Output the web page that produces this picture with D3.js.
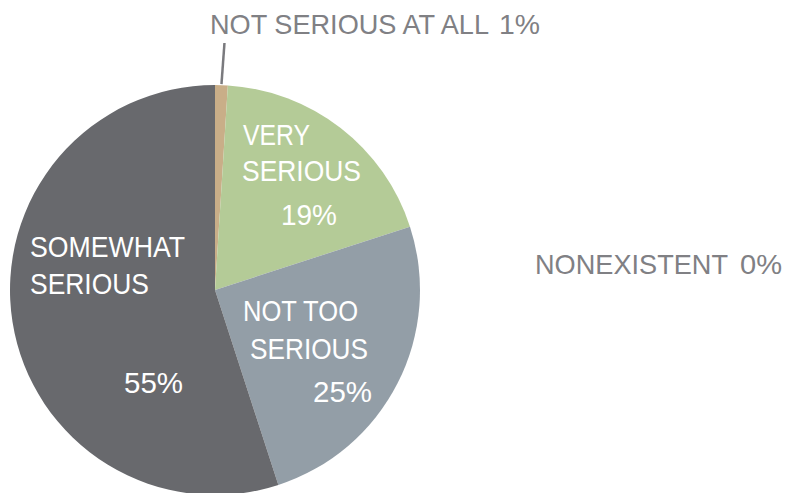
<!DOCTYPE html>
<html>
<head>
<meta charset="utf-8">
<script src="https://cdn.jsdelivr.net/npm/d3@7"></script>
<style>
html,body{margin:0;padding:0;background:#fff;overflow:hidden;}
text{font-family:"Liberation Sans",Arial,sans-serif;}
</style>
</head>
<body>
<svg id="chart" width="791" height="493"></svg>
<script>
const categories = ["NOT SERIOUS AT ALL", "VERY SERIOUS", "NOT TOO SERIOUS", "SOMEWHAT SERIOUS", "NONEXISTENT"];
const values = [1, 19, 25, 55, 0];
const colors = ["#c9ae88", "#b4cb97", "#939ea7", "#68696d", "#d0d0d0"];

const svg = d3.select("#chart");
const cx = 215, cy = 290, R = 205;
const g = svg.append("g").attr("transform", `translate(${cx},${cy})`);

const pie = d3.pie().sort(null).value(d => d.v).startAngle(0).endAngle(2*Math.PI);
const data = categories.map((c,i)=>({c, v: values[i], col: colors[i]}));
const arcs = pie(data);
const arc = d3.arc().innerRadius(0).outerRadius(R);

g.selectAll("path").data(arcs.filter(a=>a.data.v>0)).join("path")
  .attr("d", arc).attr("fill", d=>d.data.col);

// label layout: [text or "%" , x offset, baseline offset, target width]
const layout = {
  "NOT SERIOUS AT ALL": {size:28, fill:"#808084", lines:[["NOT SERIOUS AT ALL",-5,-256,279],["%",284,-256,41]]},
  "VERY SERIOUS": {size:30, fill:"#ffffff", lines:[["VERY",28,-145,67],["SERIOUS",27,-109,119],["%",66,-65,56]]},
  "NOT TOO SERIOUS": {size:30, fill:"#ffffff", lines:[["NOT TOO",28,30.5,115],["SERIOUS",35,69,118],["%",98,111.5,59]]},
  "SOMEWHAT SERIOUS": {size:30, fill:"#ffffff", lines:[["SOMEWHAT",-185,-33.5,155],["SERIOUS",-185,4,119],["%",-91,103,59]]},
  "NONEXISTENT": {size:28, fill:"#808084", lines:[["NONEXISTENT",320,-16,193],["%",525,-16,42]]}
};

arcs.forEach(a=>{
  const lay = layout[a.data.c];
  lay.lines.forEach(([t,x,y,w])=>{
    const txt = t === "%" ? d3.format("d")(a.data.v) + "%" : t;
    g.append("text").attr("x",x).attr("y",y)
      .attr("fill",lay.fill).attr("font-size",lay.size)
      .attr("textLength",w).attr("lengthAdjust","spacingAndGlyphs")
      .text(txt);
  });
});

// leader line for the tiny slice
const a0 = arcs[0];
const mid = (a0.startAngle + a0.endAngle)/2;
const p1 = [Math.sin(mid)*(R+1), -Math.cos(mid)*(R+1)];
g.append("line").attr("x1",p1[0]).attr("y1",p1[1]).attr("x2",p1[0]+3).attr("y2",-247)
  .attr("stroke","#7a7a7e").attr("stroke-width",2.5);
</script>
</body>
</html>
